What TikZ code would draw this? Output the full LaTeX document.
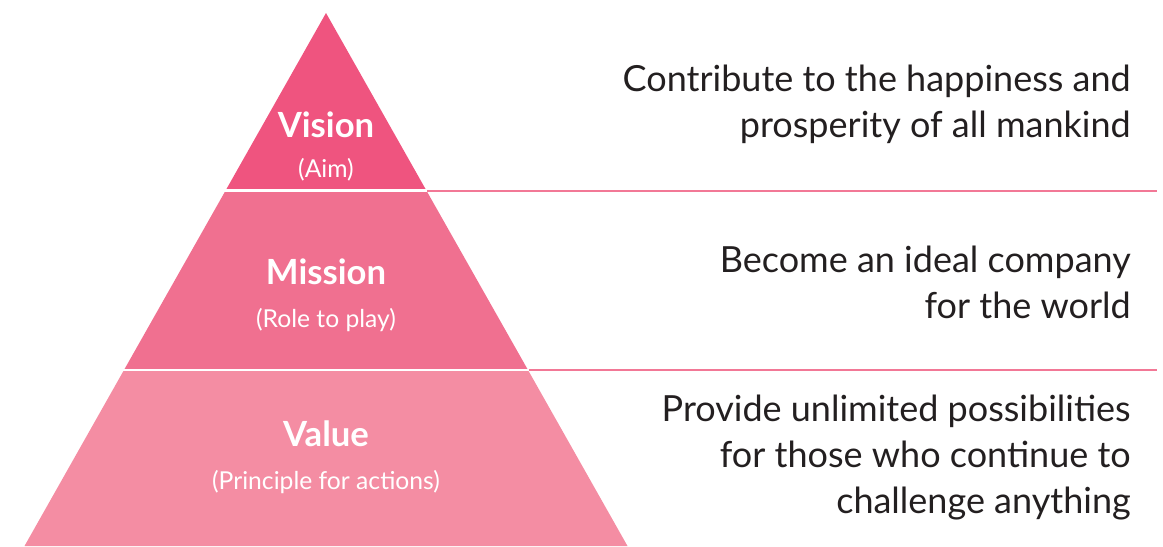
\documentclass[tikz,border=0pt]{standalone}
\usepackage{fontspec}
\setmainfont{Lato}
\definecolor{visioncol}{HTML}{EF547F}
\definecolor{missioncol}{HTML}{F07090}
\definecolor{valuecol}{HTML}{F48DA3}
\definecolor{rulecol}{HTML}{F27896}
\definecolor{textcol}{HTML}{231F20}
\tikzset{
  bandtitle/.style={text=white,font=\fontsize{26}{30}\selectfont\bfseries,inner sep=0.75pt},
  bandsub/.style={text=white,font=\fontsize{18.5}{22}\selectfont,inner sep=0.75pt},
  aimtext/.style={text=textcol,font=\fontsize{27}{34.5}\selectfont,align=right,anchor=east,inner sep=0.75pt},
  bandrule/.style={draw=rulecol,line width=1.5pt},
  bandgap/.style={draw=white,line width=2.2pt}
}

\begin{document}
\begin{tikzpicture}[x=0.75pt,y=0.75pt,yscale=-1,xscale=1]
\useasboundingbox (0,0) rectangle (1163,546);

%Shape: Triangle [Vision band]
\fill[visioncol] (326,13) -- (426.1,190) -- (225.9,190) -- cycle ;
%Shape: Trapezoid [Mission band]
\fill[missioncol] (225.9,190) -- (426.1,190) -- (528,370) -- (124,370) -- cycle ;
%Shape: Trapezoid [Value band]
\fill[valuecol] (124,370) -- (528,370) -- (627.5,546) -- (24.5,546) -- cycle ;

% Band corners and rule ends
\coordinate (visL) at (224,190.5) ;
\coordinate (visR) at (427,190.5) ;
\coordinate (visE) at (1157,190.5) ;
\coordinate (misL) at (122,370) ;
\coordinate (misR) at (529,370) ;
\coordinate (misE) at (1157,370) ;

% White gaps between the bands
\draw[bandgap] (visL) -- (visR) ;
\draw[bandgap] (misL) -- (misR) ;
% Pink rules
\draw[bandrule] (visR) -- (visE) ;
\draw[bandrule] (misR) -- (misE) ;

% Text Node
\node[bandtitle] (vision) at (326,125) {Vision};
% Text Node
\node[bandsub] (aim) at (326,170) {(Aim)};
% Text Node
\node[bandtitle] (mission) at (326,272) {Mission};
% Text Node
\node[bandsub] (role) at (326,320) {(Role to play)};
% Text Node
\node[bandtitle] (value) at (326,434) {Value};
% Text Node
\node[bandsub] (principle) at (326,482) {(Principle for actions)};

% Text Node
\node[aimtext] (visiontext) at (1132,104) {Contribute to the happiness and\\prosperity of all mankind};
% Text Node
\node[aimtext] (missiontext) at (1132,282) {Become an ideal company\\for the world};
% Text Node
\node[aimtext] (valuetext) at (1132,458) {Provide unlimited possibilities\\for those who continue to\\challenge anything};

\end{tikzpicture}
\end{document}
